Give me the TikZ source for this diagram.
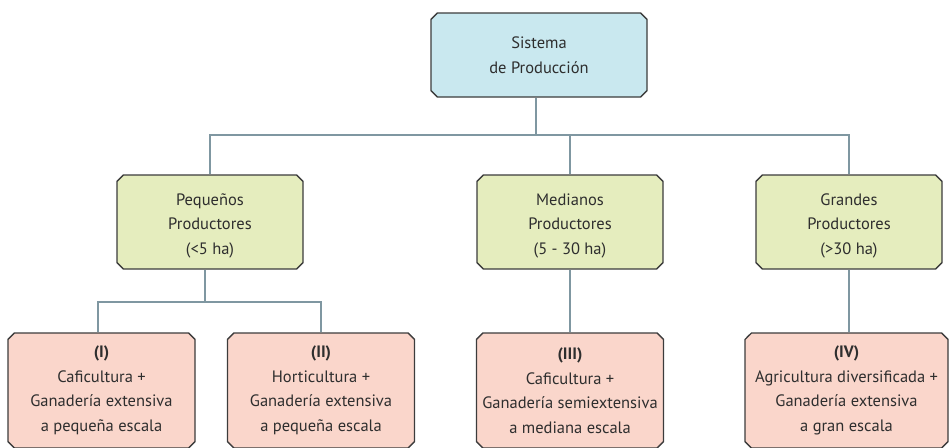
\documentclass[tikz,border=0pt]{standalone}
\usepackage{fontspec}
\setmainfont{PT Sans}
\usetikzlibrary{shapes.misc}
\definecolor{txt}{HTML}{2E2E2E}
\definecolor{edge}{HTML}{3C3C3C}
\definecolor{conn}{HTML}{7F97A1}
\definecolor{blueF}{HTML}{C9E8EF}
\definecolor{greenF}{HTML}{E5EDBE}
\definecolor{pinkF}{HTML}{FAD6CB}
\tikzset{
  box/.style={chamfered rectangle, chamfered rectangle xsep=3.2pt, chamfered rectangle ysep=3.2pt,
    draw=edge, line width=1.3pt, text=txt, align=center, inner sep=0pt,
    font=\fontsize{16.5}{24.5}\selectfont},
  topbox/.style={box, fill=blueF, minimum width=216pt, minimum height=84pt},
  midbox/.style={box, fill=greenF, minimum width=186pt, minimum height=94pt},
  lowbox/.style={box, fill=pinkF, minimum width=187pt, minimum height=115pt},
  link/.style={draw=conn, line width=1.3pt}
}
\begin{document}
\begin{tikzpicture}[x=1pt,y=-1pt]
\useasboundingbox (0,0) rectangle (949,447);
\begin{scope}
\clip (0,0) rectangle (949,447);
\node[topbox] (top) at (539,55) {Sistema\\de Producción};
\node[midbox] (peq) at (210,222) {\\[-5pt]Pequeños\\Productores\\(<5 ha)};
\node[midbox] (med) at (570,222) {\\[-5pt]Medianos\\Productores\\(5 - 30 ha)};
\node[midbox] (gra) at (849,222) {\\[-5pt]Grandes\\Productores\\(>30 ha)};
\node[lowbox] (b1) at (101.5,390.5) {\textbf{(I)}\\Caficultura +\\Ganadería extensiva\\a pequeña escala};
\node[lowbox] (b2) at (321,390.5) {\textbf{(II)}\\Horticultura +\\Ganadería extensiva\\a pequeña escala};
\node[lowbox] (b3) at (570,390.5) {\textbf{(III)}\\Caficultura +\\Ganadería semiextensiva\\a mediana escala};
\node[lowbox, minimum width=203pt] (b4) at (846.5,390.5) {\textbf{(IV)}\\Agricultura diversificada +\\Ganadería extensiva\\a gran escala};
\end{scope}
\coordinate (j1) at (536,135);
\coordinate (j2) at (205,302);
\draw[link] ([xshift=-3pt]top.south) -- (j1);
\draw[link] (peq.north) |- (j1) -| (gra.north);
\draw[link] (j1 -| med.north) -- (med.north);
\draw[link] ([xshift=-5pt]peq.south) -- (j2);
\draw[link] ([xshift=-3.5pt]b1.north) |- (j2) -| (b2.north);
\draw[link] (med.south) -- (b3.north);
\draw[link] (gra.south) -- (gra.south |- b4.north);
\end{tikzpicture}
\end{document}
